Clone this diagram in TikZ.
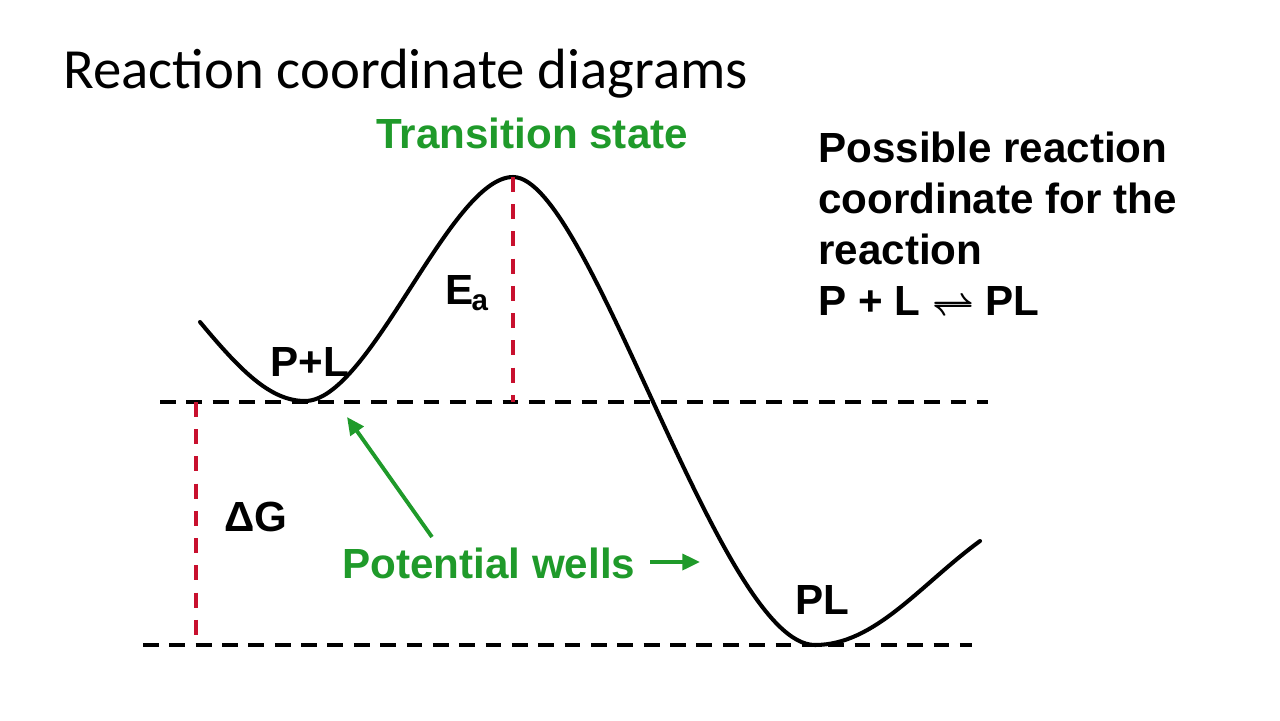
\documentclass[tikz,border=0pt]{standalone}
\usepackage{fontspec}
\setmainfont{Liberation Sans}
\newfontfamily\titrefont{Carlito}
\usetikzlibrary{arrows.meta}
\definecolor{vertpuits}{HTML}{1F9A2A}
\definecolor{rougetrait}{HTML}{C8102E}
\tikzset{
  courbe/.style={line width=2.3pt,line join=round,line cap=round},
  niveau/.style={line width=2.2pt,dash pattern=on 9pt off 6pt},
  ecart/.style={rougetrait,line width=2.2pt,dash pattern=on 8.5pt off 7pt},
  etiq/.style={font=\fontsize{24pt}{29pt}\selectfont\bfseries,inner sep=0pt,anchor=base west},
  fleche/.style={-{Triangle[length=10pt,width=9pt]},vertpuits,line width=2.2pt},
}
\begin{document}
\begin{tikzpicture}[x=0.02cm,y=-0.02cm]
  \useasboundingbox[fill=white] (0,0) rectangle (1280,720);
  % titre
  \node[anchor=base west,inner sep=0pt,font=\titrefont\fontsize{32.3pt}{40pt}\selectfont] (titre) at (63,88) {Reaction coordinate diagrams};
  \node[etiq,vertpuits] (etat) at (376,148) {Transition state};
  \node[etiq,align=left,anchor=north west] (texte) at (818,132) {Possible reaction\\coordinate for the\\reaction\\P + L {\fontsize{20pt}{29pt}\selectfont\boldmath$\rightleftharpoons$} PL};
  % niveaux
  \coordinate (hautG) at (160,402);
  \coordinate (hautD) at (988,402);
  \coordinate (basG) at (143,645);
  \coordinate (basD) at (972,645);
  \draw[niveau] (hautG) -- (hautD);
  \draw[niveau] (basG) -- (basD);
  % courbe
  \coordinate (debut) at (200,322);
  \coordinate (puitsA) at (305,401);
  \coordinate (sommet) at (513,177);
  \coordinate (puitsB) at (815,645);
  \coordinate (fin) at (980,541);
  \draw[courbe] (debut) .. controls (240,370) and (270,401) .. (puitsA)
    .. controls (370,401) and (450,177) .. (sommet)
    .. controls (590,177) and (720,645) .. (puitsB)
    .. controls (875,645) and (920,585) .. (fin);
  % ecarts
  \coordinate (gHaut) at (196,402);
  \coordinate (gBas) at (196,645);
  \coordinate (sPied) at (513,402);
  \draw[ecart] (gHaut) -- (gBas);
  \draw[ecart] (sommet) -- (sPied);
  % etiquettes
  \node[etiq] (pl1) at (270,376) {P+L};
  \node[etiq] (ea) at (445,304) {E\kern-1pt\textsubscript{a}};
  \node[etiq] (dg) at (224,531) {ΔG};
  \node[etiq] (pl2) at (795,614) {PL};
  \node[etiq,vertpuits] (puits) at (342,578) {Potential wells};
  \coordinate (flA) at (432,537);
  \coordinate (flAbout) at (347,417);
  \coordinate (flB) at (650,562);
  \coordinate (flBbout) at (700,562);
  \draw[fleche] (flA) -- (flAbout);
  \draw[fleche] (flB) -- (flBbout);
\end{tikzpicture}
\end{document}
